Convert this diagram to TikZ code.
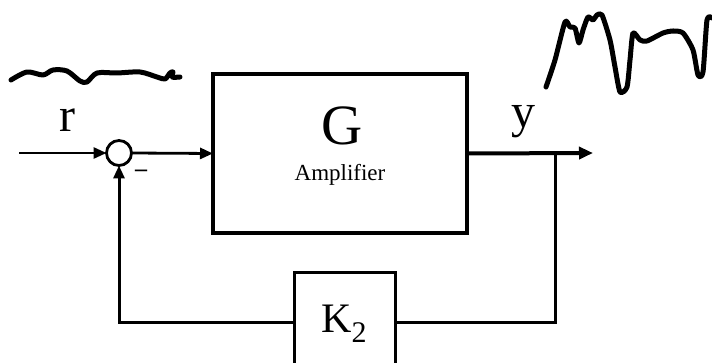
\documentclass[tikz,border=0pt]{standalone}
\usepackage{fontspec}
\setmainfont{Liberation Serif}
\usetikzlibrary{arrows.meta}
\begin{document}
\begin{tikzpicture}[x=1pt,y=-1pt,
  sig/.style={line width=2.8pt,-{Triangle[length=13pt,width=11pt]}},
  fb/.style={line width=3pt},
  wave/.style={line width=5pt,line join=round,line cap=round},
  lbl/.style={inner sep=0pt,anchor=base}]
\useasboundingbox (0,0) rectangle (712,363);
\clip (0,0) rectangle (712,363);
\fill[white] (0,0) rectangle (712,363);
% blocks
\node[draw,line width=4pt,minimum width=254pt,minimum height=159pt,inner sep=0pt,outer sep=0pt] (G) at (340,153.5) {};
\node[draw,circle,line width=2.8pt,minimum size=25pt,inner sep=0pt,outer sep=0pt] (s) at (119,153) {};
\node[draw,line width=3pt,minimum width=101pt,minimum height=98pt,inner sep=0pt,outer sep=0pt] (K) at (344.5,322) {};
\node[inner sep=0pt] (Kt) at (344,324) {\fontsize{42}{42}\selectfont K\raisebox{-10pt}{\fontsize{30}{30}\selectfont 2}};
% labels
\node[lbl] (Gt) at (342,145) {\fontsize{57}{57}\selectfont G};
\node[lbl] (At) at (340,181) {\fontsize{23}{23}\selectfont Amplifier};
\node[lbl] (rt) at (67,132) {\fontsize{48}{48}\selectfont r};
\node[lbl] (yt) at (523,128) {\fontsize{48}{48}\selectfont y};
\node[inner sep=0pt] (mt) at (141,173) {\fontsize{24}{24}\selectfont\bfseries –};
% coordinates
\coordinate (in) at (19,153);
\coordinate (out) at (593,153);
\coordinate (j) at (555,153);
% connectors
\draw[sig] (in) -- (s.west);
\draw[sig] (s.east) -- (G.west);
\draw[line width=4pt,-{Triangle[length=14pt,width=12pt]}] (G.east) -- (out);
\draw[fb] (j) |- (K.east);
\draw[sig,line width=3pt] (K.west) -| (s.south);
% waves
\draw[wave] plot[smooth,tension=0.5] coordinates {(11,80) (27,72) (43,75) (53,70) (67,71) (80,81) (87,82) (97,73) (117,73) (140,72) (157,77) (165,79) (170,73) (173,72) (172,77) (180,77)};
\draw[wave] plot[smooth,tension=0.4] coordinates {(546,87) (555,60) (565,22) (570,27) (575,28) (579,43) (583,30) (588,17) (593,20) (597,15) (602,15) (610,40) (615,67) (620,92) (627,87) (630,60) (633,33) (640,40) (647,41) (663,33) (673,31) (683,33) (693,50) (698,75) (703,72) (707,20) (712,18)};
\end{tikzpicture}
\end{document}
